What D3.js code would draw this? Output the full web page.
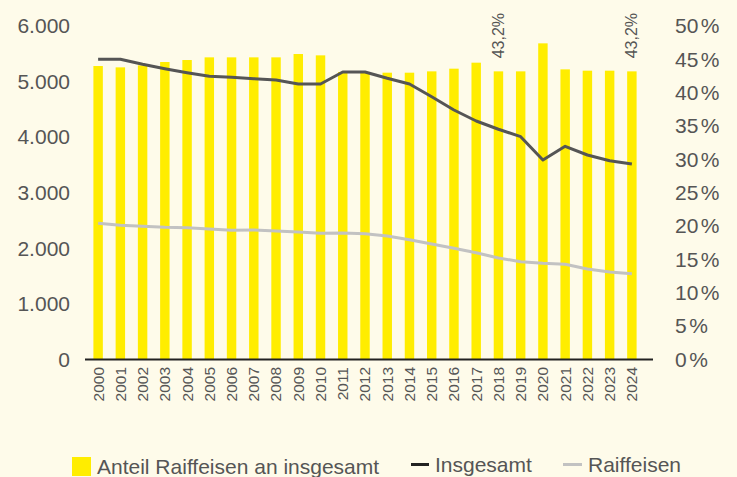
<!DOCTYPE html>
<html>
<head>
<meta charset="utf-8">
<script src="https://cdn.jsdelivr.net/npm/d3@7"></script>
<style>
  html, body { margin: 0; padding: 0; background: #fefbea; }
  svg { display: block; }
  text { font-family: "Liberation Sans", Arial, Helvetica, sans-serif; fill: #555; }
</style>
</head>
<body>
<svg id="chart" width="737" height="477"></svg>
<script>
// ---- data ----
const years = ["2000","2001","2002","2003","2004","2005","2006","2007","2008","2009","2010","2011","2012","2013","2014","2015","2016","2017","2018","2019","2020","2021","2022","2023","2024"];
const anteilRaiffeisen = [44.0, 43.8, 44.1, 44.6, 44.9, 45.3, 45.3, 45.3, 45.3, 45.8, 45.6, 43.1, 43.0, 43.0, 43.0, 43.2, 43.6, 44.5, 43.2, 43.2, 47.4, 43.5, 43.3, 43.3, 43.2];
const insgesamt = [5401, 5401, 5311, 5232, 5160, 5095, 5077, 5052, 5029, 4957, 4957, 5173, 5173, 5059, 4957, 4728, 4489, 4291, 4142, 4009, 3589, 3836, 3679, 3577, 3517];
const raiffeisen = [2450, 2414, 2396, 2378, 2372, 2348, 2324, 2330, 2312, 2294, 2270, 2276, 2264, 2222, 2156, 2078, 2001, 1922, 1826, 1760, 1731, 1713, 1628, 1574, 1544];
const leftTicks = [0, 1000, 2000, 3000, 4000, 5000, 6000];
const rightTicks = [0, 5, 10, 15, 20, 25, 30, 35, 40, 45, 50];
const labelledYears = ["2018", "2024"];
const legendLabels = ["Anteil Raiffeisen an insgesamt", "Insgesamt", "Raiffeisen"];

// ---- layout ----
const svg = d3.select("#chart");
const W = 737, H = 477;
svg.append("rect").attr("width", W).attr("height", H).attr("fill", "#fefbea");

const yBase = 359.5, yTop = 26;
const x = d3.scaleBand().domain(years).range([87, 643]).paddingInner(0.575).paddingOuter(0.2875);
const yL = d3.scaleLinear().domain([0, 6000]).range([yBase, yTop]);
const yR = d3.scaleLinear().domain([0, 50]).range([yBase, yTop]);

const de = d3.formatLocale({decimal: ",", thousands: ".", grouping: [3], currency: ["", " €"]});
const fmtThousands = de.format(",d");
const fmtPct = de.format(".1f");

// bars
svg.append("g").selectAll("rect").data(years).join("rect")
  .attr("x", d => x(d))
  .attr("width", x.bandwidth())
  .attr("y", (d, i) => yR(anteilRaiffeisen[i]))
  .attr("height", (d, i) => yBase - yR(anteilRaiffeisen[i]))
  .attr("fill", "#ffed00");

// value labels
svg.append("g").selectAll("text").data(labelledYears).join("text")
  .attr("transform", d => {
    const i = years.indexOf(d);
    return `translate(${x(d) + x.bandwidth() / 2},${yR(anteilRaiffeisen[i]) - 13}) rotate(-90)`;
  })
  .attr("dy", "0.35em")
  .attr("text-anchor", "start")
  .style("font-size", "16px")
  .text(d => fmtPct(anteilRaiffeisen[years.indexOf(d)]) + "%");

// lines
const cx = d => x(d) + x.bandwidth() / 2;
const line = d3.line().x((d, i) => cx(years[i])).y(d => yL(d));
svg.append("path").datum(raiffeisen).attr("d", line)
  .attr("fill", "none").attr("stroke", "#c2c2c2").attr("stroke-width", 3).attr("stroke-linejoin", "round");
svg.append("path").datum(insgesamt).attr("d", line)
  .attr("fill", "none").attr("stroke", "#555555").attr("stroke-width", 3).attr("stroke-linejoin", "round");

// baseline
svg.append("line").attr("x1", 85).attr("x2", 653).attr("y1", yBase).attr("y2", yBase)
  .attr("stroke", "#222").attr("stroke-width", 2);

// left axis
const gL = svg.append("g").attr("transform", "translate(70,0)")
  .call(d3.axisLeft(yL).tickValues(leftTicks).tickFormat(fmtThousands).tickSize(0).tickPadding(0));
gL.select(".domain").remove();
gL.selectAll("text").style("font-size", "21px").style("font-family", null).attr("fill", "#555");

// right axis
const gR = svg.append("g").attr("transform", "translate(675,0)")
  .call(d3.axisRight(yR).tickValues(rightTicks).tickFormat(d => d).tickSize(0).tickPadding(0));
gR.select(".domain").remove();
gR.selectAll("text").style("font-size", "21px").style("font-family", null).attr("fill", "#555")
  .each(function(d) {
    const t = d3.select(this);
    t.text(null);
    t.append("tspan").text(d);
    t.append("tspan").attr("dx", 2.5).text("%");
  });

// x axis labels
const gX = svg.append("g").attr("transform", `translate(0,${yBase})`)
  .call(d3.axisBottom(x).tickSize(0).tickPadding(0));
gX.select(".domain").remove();
gX.selectAll("text")
  .style("font-size", "15.5px").style("font-family", null).attr("fill", "#555")
  .attr("text-anchor", "end")
  .attr("y", 0).attr("dy", "0.35em")
  .attr("transform", "translate(0,7.5) rotate(-90)");

// legend
const lg = svg.append("g");
lg.append("rect").attr("x", 72).attr("y", 457).attr("width", 19).attr("height", 19).attr("fill", "#ffed00");
lg.append("text").attr("x", 97).attr("y", 474).style("font-size", "21px").text(legendLabels[0]);
lg.append("line").attr("x1", 411).attr("x2", 429).attr("y1", 464.5).attr("y2", 464.5).attr("stroke", "#222").attr("stroke-width", 3);
lg.append("text").attr("x", 435).attr("y", 471.5).style("font-size", "21px").text(legendLabels[1]);
lg.append("line").attr("x1", 563).attr("x2", 582).attr("y1", 464.5).attr("y2", 464.5).attr("stroke", "#c2c2c2").attr("stroke-width", 3);
lg.append("text").attr("x", 588).attr("y", 471.5).style("font-size", "21px").text(legendLabels[2]);
</script>
</body>
</html>
